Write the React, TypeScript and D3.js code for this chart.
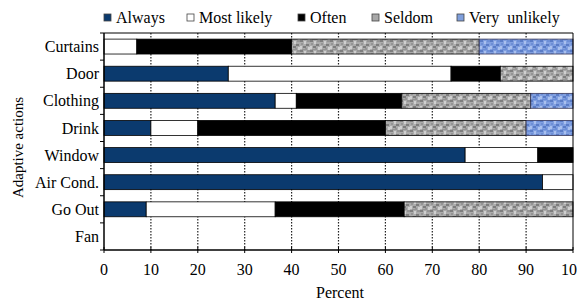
import React from 'react';
import * as d3 from 'd3';

const categories = ['Curtains', 'Door', 'Clothing', 'Drink', 'Window', 'Air Cond.', 'Go Out', 'Fan'];
const seriesNames = ['Always', 'Most likely', 'Often', 'Seldom', 'Very\u00a0 unlikely'];
const always = [0, 26.5, 36.5, 10, 77, 93.5, 9, 0];
const mostLikely = [7, 47.5, 4.5, 10, 15.5, 6.5, 27.5, 0];
const often = [33, 10.5, 22.5, 40, 7.5, 0, 27.5, 0];
const seldom = [40, 15.5, 27.5, 30, 0, 0, 36, 0];
const veryUnlikely = [20, 0, 9, 10, 0, 0, 0, 0];
const xTicks = [0, 10, 20, 30, 40, 50, 60, 70, 80, 90, 100];

const width = 577;
const height = 306;

const fills = ['#0b3a6e', '#ffffff', '#000000', 'url(#seldomTex)', 'url(#veryTex)'];
const legendFills = ['#0b3a6e', '#ffffff', '#000000', '#a8a8a8', '#7f9fdc'];
const legendX = [104, 187, 298, 372, 457];

// speckle spots for the texture tiles: [x, y, w, h, shade]
const spots: [number, number, number, number, number][] = [
  [0, 0, 3, 2, 0], [4, 1, 2, 3, 1], [7, 0, 3, 2, 2], [1, 3, 2, 2, 2], [6, 4, 3, 2, 0],
  [0, 6, 2, 3, 1], [3, 6, 3, 2, 0], [8, 7, 2, 3, 1], [2, 9, 3, 1, 2], [5, 8, 2, 2, 2],
];

const css = `
  body { margin: 0; font-family: 'Liberation Serif', serif; }
  svg.chart text { font-family: 'Liberation Serif', 'Times New Roman', serif; fill: #000; }
`;

const App: React.FC = () => {
  const margin = { top: 33, right: 4, bottom: 56, left: 104 };
  const x = d3.scaleLinear().domain([0, 100]).range([margin.left, width - margin.right]);
  const y = d3.scaleBand<string>().domain(categories).range([margin.top, height - margin.bottom]).padding(0);
  const barH = y.bandwidth() * 0.55;

  const rows = categories.map((c, i) => ({
    cat: c,
    [seriesNames[0]]: always[i],
    [seriesNames[1]]: mostLikely[i],
    [seriesNames[2]]: often[i],
    [seriesNames[3]]: seldom[i],
    [seriesNames[4]]: veryUnlikely[i],
  }));
  const stacked = d3.stack<any>().keys(seriesNames)(rows);

  const x0 = x(0);
  const x1 = x(100);
  const yTop = margin.top;
  const yBot = height - margin.bottom;

  const grayShades = ['#7e7e7e', '#cfcfcf', '#959595'];
  const blueShades = ['#5a7cc6', '#a9c0ee', '#6d8fd6'];

  return (
    <div style={{ position: 'absolute', left: 0, top: 0, width, height }}>
      <style>{css}</style>
      <svg className="chart" width={width} height={height} style={{ display: 'block', background: '#fff' }}>
        <defs>
          <pattern id="seldomTex" patternUnits="userSpaceOnUse" width={10} height={10}>
            <rect width={10} height={10} fill="#ababab" />
            {spots.map((s, i) => (
              <rect key={i} x={s[0]} y={s[1]} width={s[2]} height={s[3]} fill={grayShades[s[4]]} />
            ))}
          </pattern>
          <pattern id="veryTex" patternUnits="userSpaceOnUse" width={10} height={10}>
            <rect width={10} height={10} fill="#809fe0" />
            {spots.map((s, i) => (
              <rect key={i} x={s[0]} y={s[1]} width={s[2]} height={s[3]} fill={blueShades[s[4]]} />
            ))}
          </pattern>
        </defs>

        {/* legend */}
        {seriesNames.map((s, i) => (
          <g key={s}>
            <rect x={legendX[i]} y={14} width={7} height={7} fill={legendFills[i]} stroke="#444" strokeWidth={0.8} />
            <text x={legendX[i] + 12} y={23} fontSize={16}>
              {s}
            </text>
          </g>
        ))}

        {/* dotted grid lines */}
        {xTicks.slice(1, -1).map((t) => (
          <line key={t} x1={x(t)} x2={x(t)} y1={yTop} y2={yBot} stroke="#222" strokeWidth={1.2} strokeDasharray="1.5,1.5" />
        ))}

        {/* bars */}
        {stacked.map((layer, si) => (
          <g key={layer.key}>
            {layer.map((d, i) => {
              const w = x(d[1]) - x(d[0]);
              if (w <= 0) return null;
              return (
                <rect
                  key={i}
                  x={x(d[0])}
                  y={(y(categories[i]) as number) + (y.bandwidth() - barH) / 2}
                  width={w}
                  height={barH}
                  fill={fills[si]}
                  stroke={si === 4 ? '#335' : '#000'}
                  strokeWidth={0.8}
                />
              );
            })}
          </g>
        ))}

        {/* frame */}
        <line x1={x0} x2={x1} y1={yTop} y2={yTop} stroke="#000" strokeWidth={1} />
        <line x1={x1} x2={x1} y1={yTop} y2={yBot} stroke="#000" strokeWidth={1} />
        <line x1={x0} x2={x1} y1={yBot} y2={yBot} stroke="#000" strokeWidth={1.5} />
        <line x1={x0} x2={x0} y1={yTop} y2={yBot} stroke="#000" strokeWidth={1.5} />

        {/* x ticks */}
        {xTicks.map((t) => (
          <g key={t}>
            <line x1={x(t)} x2={x(t)} y1={yBot - 3} y2={yBot + 3} stroke="#000" strokeWidth={1} />
            <text x={x(t)} y={yBot + 25} textAnchor="middle" fontSize={16}>
              {t}
            </text>
          </g>
        ))}

        {/* y ticks at band edges */}
        {d3.range(categories.length + 1).map((i) => {
          const yy = yTop + i * y.step();
          return <line key={i} x1={x0 - 4} x2={x0} y1={yy} y2={yy} stroke="#000" strokeWidth={1} />;
        })}

        {/* y labels */}
        {categories.map((c) => (
          <text
            key={c}
            x={x0 - 5}
            y={(y(c) as number) + y.bandwidth() / 2}
            dy="0.35em"
            textAnchor="end"
            fontSize={16}
          >
            {c}
          </text>
        ))}

        {/* axis titles */}
        <text x={340} y={298} textAnchor="middle" fontSize={16}>
          Percent
        </text>
        <text
          transform={`translate(23,${(yTop + yBot) / 2 + 6}) rotate(-90)`}
          textAnchor="middle"
          fontSize={15}
        >
          Adaptive actions
        </text>
      </svg>
    </div>
  );
};

export default App;
